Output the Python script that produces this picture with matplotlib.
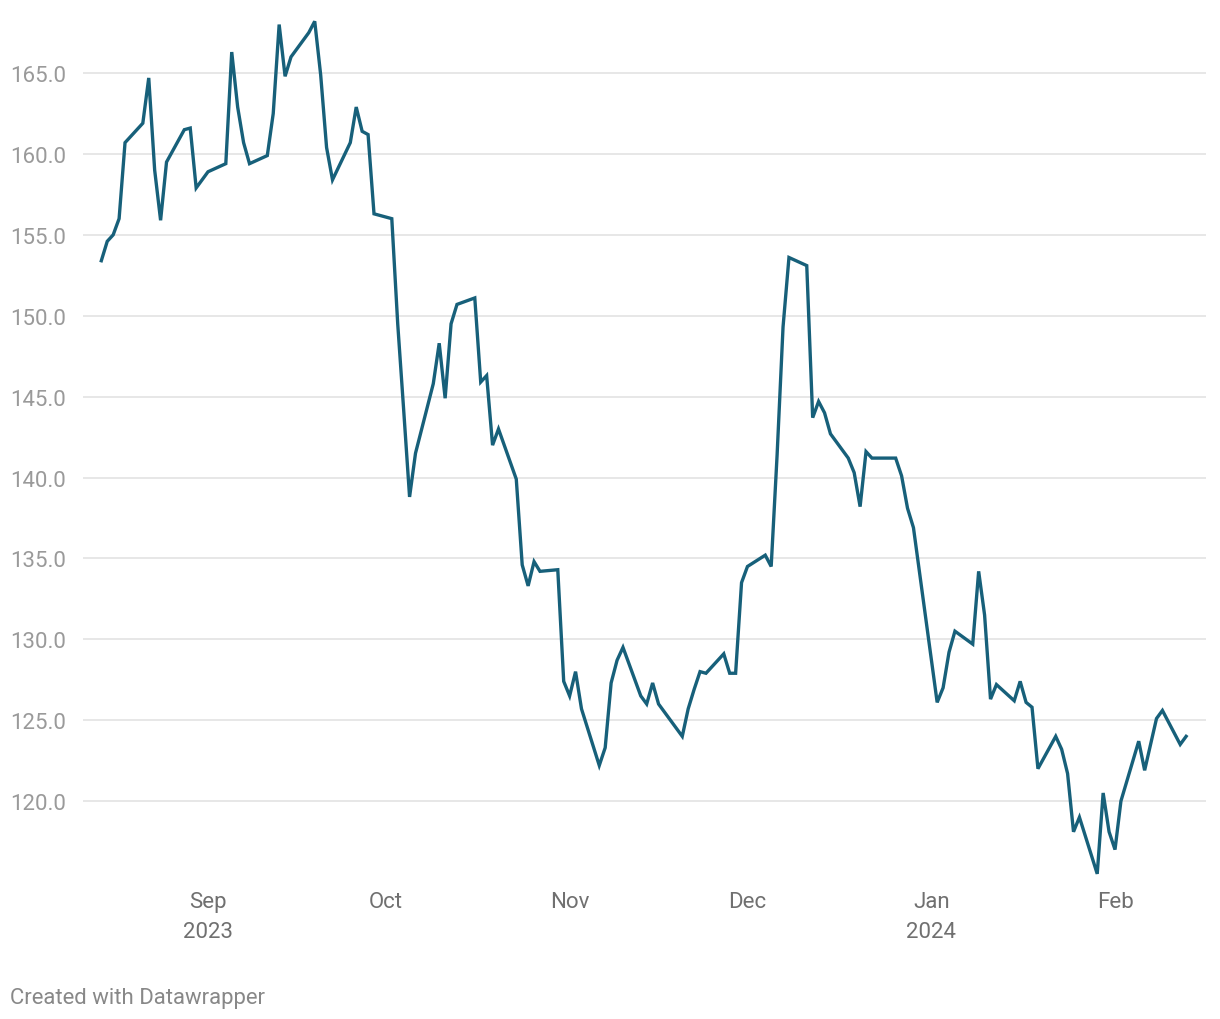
import pandas as pd
import matplotlib
matplotlib.use("Agg")
import matplotlib.pyplot as plt

# Data (daily closes)
#================================================================
dates = [
    "2023-08-14", "2023-08-15", "2023-08-16", "2023-08-17", "2023-08-18",
    "2023-08-21", "2023-08-22", "2023-08-23", "2023-08-24", "2023-08-25",
    "2023-08-28", "2023-08-29", "2023-08-30", "2023-08-31", "2023-09-01",
    "2023-09-04", "2023-09-05", "2023-09-06", "2023-09-07", "2023-09-08",
    "2023-09-11", "2023-09-12", "2023-09-13", "2023-09-14", "2023-09-15",
    "2023-09-18", "2023-09-19", "2023-09-20", "2023-09-21", "2023-09-22",
    "2023-09-25", "2023-09-26", "2023-09-27", "2023-09-28", "2023-09-29",
    "2023-10-02", "2023-10-03", "2023-10-04", "2023-10-05", "2023-10-06",
    "2023-10-09", "2023-10-10", "2023-10-11", "2023-10-12", "2023-10-13",
    "2023-10-16", "2023-10-17", "2023-10-18", "2023-10-19", "2023-10-20",
    "2023-10-23", "2023-10-24", "2023-10-25", "2023-10-26", "2023-10-27",
    "2023-10-30", "2023-10-31", "2023-11-01", "2023-11-02", "2023-11-03",
    "2023-11-06", "2023-11-07", "2023-11-08", "2023-11-09", "2023-11-10",
    "2023-11-13", "2023-11-14", "2023-11-15", "2023-11-16", "2023-11-17",
    "2023-11-20", "2023-11-21", "2023-11-22", "2023-11-23", "2023-11-24",
    "2023-11-27", "2023-11-28", "2023-11-29", "2023-11-30", "2023-12-01",
    "2023-12-04", "2023-12-05", "2023-12-06", "2023-12-07", "2023-12-08",
    "2023-12-11", "2023-12-12", "2023-12-13", "2023-12-14", "2023-12-15",
    "2023-12-18", "2023-12-19", "2023-12-20", "2023-12-21", "2023-12-22",
    "2023-12-26", "2023-12-27", "2023-12-28", "2023-12-29",
    "2024-01-02", "2024-01-03", "2024-01-04", "2024-01-05",
    "2024-01-08", "2024-01-09", "2024-01-10", "2024-01-11", "2024-01-12",
    "2024-01-15", "2024-01-16", "2024-01-17", "2024-01-18", "2024-01-19",
    "2024-01-22", "2024-01-23", "2024-01-24", "2024-01-25", "2024-01-26",
    "2024-01-29", "2024-01-30", "2024-01-31", "2024-02-01", "2024-02-02",
    "2024-02-05", "2024-02-06", "2024-02-07", "2024-02-08", "2024-02-09",
    "2024-02-12", "2024-02-13",
]
prices = [
    153.4, 154.6, 155.0, 156.0, 160.7,
    161.9, 164.7, 159.0, 155.9, 159.5,
    161.5, 161.6, 157.9, 158.4, 158.9,
    159.4, 166.3, 162.9, 160.7, 159.4,
    159.9, 162.5, 168.0, 164.8, 166.0,
    167.5, 168.2, 164.9, 160.4, 158.4,
    160.7, 162.9, 161.4, 161.2, 156.3,
    156.0, 149.5, 144.2, 138.8, 141.5,
    145.8, 148.3, 144.9, 149.5, 150.7,
    151.1, 145.9, 146.3, 142.0, 143.0,
    139.9, 134.6, 133.3, 134.8, 134.2,
    134.3, 127.4, 126.5, 128.0, 125.7,
    122.2, 123.3, 127.3, 128.7, 129.5,
    126.5, 126.0, 127.3, 126.0, 125.5,
    124.0, 125.7, 126.9, 128.0, 127.9,
    129.1, 127.9, 127.9, 133.5, 134.5,
    135.2, 134.5, 141.4, 149.3, 153.6,
    153.1, 143.7, 144.7, 144.0, 142.7,
    141.2, 140.3, 138.2, 141.6, 141.2,
    141.2, 140.1, 138.1, 136.9,
    126.1, 127.0, 129.2, 130.5,
    129.7, 134.2, 131.5, 126.3, 127.2,
    126.2, 127.4, 126.1, 125.8, 122.0,
    124.0, 123.2, 121.7, 118.1, 119.0,
    115.5, 120.5, 118.1, 117.0, 120.0,
    123.7, 121.9, 123.5, 125.1, 125.6,
    123.5, 124.0,
]
tick_dates = ["2023-09-01", "2023-10-01", "2023-11-01", "2023-12-01", "2024-01-01", "2024-02-01"]
tick_labels = ["Sep\n2023", "Oct", "Nov", "Dec", "Jan\n2024", "Feb"]
y_ticks = [120, 125, 130, 135, 140, 145, 150, 155, 160, 165]
footer = "Created with Datawrapper"
#================================================================

plt.rcParams["font.family"] = ["Roboto", "DejaVu Sans"]

df = pd.DataFrame({"date": pd.to_datetime(dates), "price": prices})

fig = plt.figure(figsize=(12.2, 10.2), dpi=100)
ax = fig.add_axes([83 / 1220, 1 - 881 / 1020, (1206 - 83) / 1220, 865 / 1020])

ax.plot(df["date"], df["price"], color="#17607a", linewidth=2.4,
        solid_joinstyle="miter", zorder=3)

# axis ranges chosen so the month ticks land where the original has them
start = pd.Timestamp("2023-09-01")
ax.set_xlim(start - pd.Timedelta(hours=21.09 * 24), start + pd.Timedelta(hours=168.35 * 24))
ax.set_ylim(115.12, 168.59)

ax.set_yticks(y_ticks)
ax.set_yticklabels([f"{v:.1f}" for v in y_ticks])
ax.set_xticks(pd.to_datetime(tick_dates))
ax.set_xticklabels(tick_labels, linespacing=1.55)

ax.yaxis.grid(True, color="#e3e3e3", linewidth=1.2)
ax.xaxis.grid(False)
ax.set_axisbelow(True)
for s in ax.spines.values():
    s.set_visible(False)

ax.tick_params(axis="y", length=0, pad=12, labelsize=16, labelcolor="#9a9a9a")
ax.tick_params(axis="x", length=0, pad=8, labelsize=16, labelcolor="#707070")

fig.text(10 / 1220, 1 - 999 / 1020, footer, fontsize=15.9, color="#888888",
         ha="left", va="center")

fig.savefig("out.png", dpi=100, facecolor="white")
